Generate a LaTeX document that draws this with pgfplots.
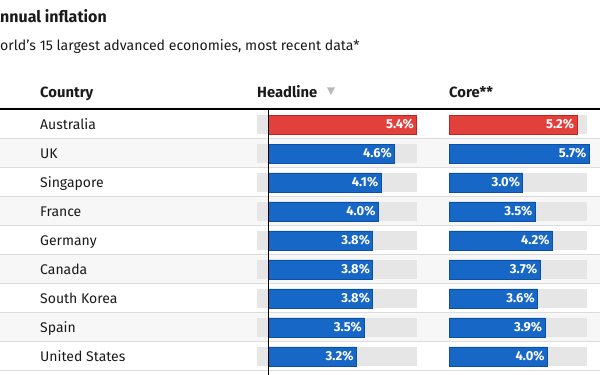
\documentclass[border=0pt]{standalone}
\usepackage{fontspec}
\setmainfont{Fira Sans}
\usepackage{pgfplots}
\pgfplotsset{compat=1.18}
\definecolor{redbar}{HTML}{E2403A}
\definecolor{redline}{HTML}{C8201C}
\definecolor{bluebar}{HTML}{1767C6}
\definecolor{blueline}{HTML}{0B4FA6}
\definecolor{track}{HTML}{E6E6E6}
\definecolor{rowbg}{HTML}{F7F7F7}
\definecolor{sep}{HTML}{DCDCDC}
\definecolor{txt}{HTML}{1A1A1A}
\begin{document}
\begin{tikzpicture}[x=1pt,y=1pt]
\useasboundingbox (0,0) rectangle (600,375);
% row backgrounds and separators
\foreach \k in {1,3,5,7} { \fill[rowbg] (0,{265-29*\k}) rectangle (600,{236-29*\k}); }
\foreach \k in {1,...,9} { \draw[sep, line width=1pt] (0,{265-29*\k}) -- (600,{265-29*\k}); }
% tracks
\foreach \k in {0,...,8} {
  \fill[track] (257,{265-29*\k-5}) rectangle (416.7,{265-29*\k-24.3});
  \fill[track] (449,{265-29*\k-5}) rectangle (587,{265-29*\k-24.3});
}
% title and subtitle
\node[anchor=base west, inner sep=0pt, text=txt, font=\fontsize{16}{18}\selectfont\bfseries] at (0,352.5) {\llap{A}nnual inflation};
\node[anchor=base west, inner sep=0pt, text=txt, font=\fontsize{14.1}{16}\selectfont] at (0,324.5) {\llap{The w}orld's 15 largest advanced economies, most recent data*};
% headers
\node[anchor=base west, inner sep=0pt, text=txt, font=\fontsize{14.8}{17}\selectfont\bfseries] at (40,277) {Country};
\node[anchor=base west, inner sep=0pt, text=txt, font=\fontsize{14.8}{17}\selectfont\bfseries] at (257,277) {Headline};
\node[anchor=base west, inner sep=0pt, text=txt, font=\fontsize{14.8}{17}\selectfont\bfseries] at (449,277) {Core**};
\fill[gray!55] (327,287.5) -- (335,287.5) -- (331,280) -- cycle;
\draw[black, line width=2pt] (0,265.5) -- (600,265.5);
% country names
\foreach \name [count=\k from 0] in {Australia,UK,Singapore,France,Germany,Canada,South Korea,Spain,United States} {
  \node[anchor=base west, inner sep=0pt, text=txt, font=\fontsize{14}{16}\selectfont] at (40,{265-29*\k-19.5}) {\name};
}
\pgfplotsset{
  tablebar/.style={
    scale only axis, anchor=north west, height=261pt,
    ymin=-0.5, ymax=8.5, y dir=reverse, hide axis, clip=false,
    xbar, bar width=19pt, bar shift=0pt, point meta=x,
    nodes near coords={\pgfmathprintnumber[fixed,fixed zerofill,precision=1,assume math mode=true]{\pgfplotspointmeta}\%},
    nodes near coords style={anchor=east, text=white, inner sep=0pt, xshift=-2.5pt, font=\fontsize{13}{15}\selectfont\bfseries},
  },
  redb/.style={fill=redbar, draw=redline, line width=0.7pt},
  blueb/.style={fill=bluebar, draw=blueline, line width=0.7pt},
}
% headline
\begin{axis}[tablebar, at={(257pt,265pt)}, width=159.7pt, xmin=-0.42, xmax=5.4]
\addplot[redb] coordinates {(5.4,0)};
\addplot[blueb] coordinates {(4.6,1) (4.1,2) (4.0,3) (3.8,4) (3.8,5) (3.8,6) (3.5,7) (3.2,8)};
\end{axis}
% core
\begin{axis}[tablebar, at={(449pt,265pt)}, width=137.8pt, xmin=0, xmax=5.6]
\addplot[redb] coordinates {(5.2,0)};
\addplot[blueb] coordinates {(5.7,1) (3.0,2) (3.5,3) (4.2,4) (3.7,5) (3.6,6) (3.9,7) (4.0,8)};
\end{axis}
\draw[black, line width=0.9pt] (268.5,264.5) -- (268.5,0);
\end{tikzpicture}
\end{document}
